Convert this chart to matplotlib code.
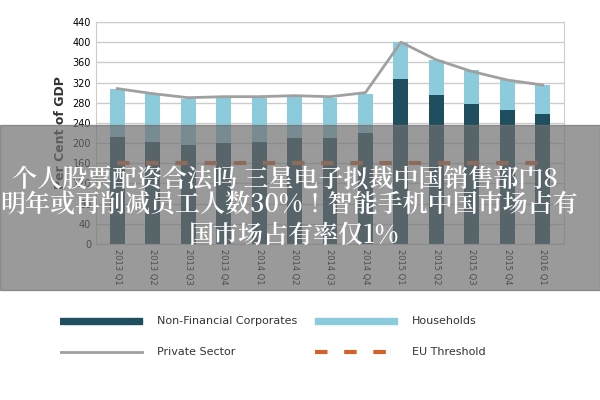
import matplotlib.pyplot as plt
import numpy as np
from matplotlib.patches import Rectangle
from matplotlib import font_manager

quarters = ['2013 Q1', '2013 Q2', '2013 Q3', '2013 Q4', '2014 Q1', '2014 Q2', '2014 Q3',
            '2014 Q4', '2015 Q1', '2015 Q2', '2015 Q3', '2015 Q4', '2016 Q1']
nfc = [212, 202, 196, 200, 202, 210, 210, 220, 327, 296, 278, 266, 258]
households = [96, 96, 92, 90, 88, 82, 80, 78, 73, 69, 66, 59, 57]
private_sector = [308, 298, 290, 292, 292, 294, 292, 300, 400, 365, 342, 325, 315]
eu_threshold = [160] * 13

# find a CJK font file
cjk_files = [f for f in font_manager.findSystemFonts() if 'CJK' in f]
bold = [f for f in cjk_files if 'Bold' in f]
if bold or cjk_files:
    cjk = font_manager.FontProperties(fname=(bold or cjk_files)[0], size=18)
else:
    cjk = font_manager.FontProperties(family='Noto Sans CJK SC', weight='bold', size=18)

fig = plt.figure(figsize=(6, 4), dpi=100)
ax = fig.add_axes([0.16, 0.39, 0.78, 0.555])
x = np.arange(len(quarters))
ax.bar(x, nfc, width=0.42, color='#1f4e5f', zorder=2)
ax.bar(x, households, width=0.42, bottom=nfc, color='#8ccbdc', zorder=2)
ax.plot(x, private_sector, color='#a0a0a0', lw=2, zorder=3)
ax.plot(x, eu_threshold, color='#d0622a', lw=3, ls=(0, (3, 4)), zorder=3)
ax.set_ylim(0, 440)
ax.set_xlim(-0.6, 12.6)
ax.set_yticks(range(0, 441, 40))
ax.tick_params(labelsize=7, length=0)
ax.set_xticks(x)
ax.set_xticklabels(quarters, rotation=270, fontsize=6)
ax.grid(axis='y', color='#cccccc', lw=1, zorder=0)
for s in ax.spines.values():
    s.set_color('#cccccc')
ax.set_ylabel('Per Cent of GDP', fontsize=9, fontweight='bold', color='#333333')

# legend
lx = fig.add_axes([0.1, 0.08, 0.85, 0.16])
lx.axis('off')
lx.set_xlim(0, 1); lx.set_ylim(0, 1)
lx.add_patch(Rectangle((0.0, 0.68), 0.16, 0.1, color='#1f4e5f'))
lx.text(0.19, 0.73, 'Non-Financial Corporates', fontsize=8, va='center', color='#333333')
lx.add_patch(Rectangle((0.5, 0.68), 0.16, 0.1, color='#8ccbdc'))
lx.text(0.69, 0.73, 'Households', fontsize=8, va='center', color='#333333')
lx.plot([0.0, 0.16], [0.25, 0.25], color='#a0a0a0', lw=2)
lx.text(0.19, 0.25, 'Private Sector', fontsize=8, va='center', color='#333333')
lx.plot([0.5, 0.66], [0.25, 0.25], color='#d0622a', lw=3, ls=(0, (3, 4)))
lx.text(0.69, 0.25, 'EU Threshold', fontsize=8, va='center', color='#333333')

# overlay banner
fig.patches.append(Rectangle((0, 0.275), 1, 0.412, transform=fig.transFigure,
                             color='#707070', alpha=0.7, zorder=10))
for tx, ty, txt in [(0.02, 0.55, '个人股票配资合法吗 三星电子拟裁中国销售部门8'),
                    (0.0, 0.487, '明年或再削减员工人数30%！智能手机中国市场占有'),
                    (0.315, 0.41, '国市场占有率仅1%')]:
    fig.text(tx, ty, txt, fontproperties=cjk, color='white', va='center', zorder=11)

fig.savefig('out.png')
